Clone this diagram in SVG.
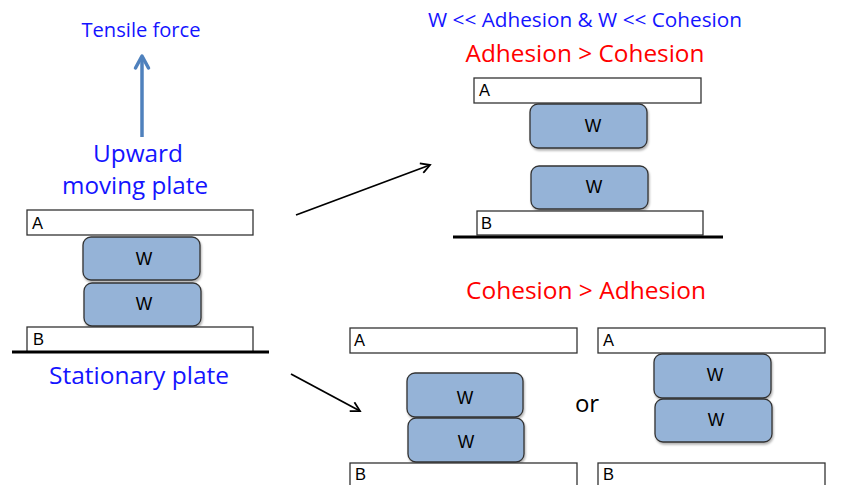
<svg xmlns="http://www.w3.org/2000/svg" width="843" height="485" viewBox="0 0 843 485">
<defs>
<style>
.plate{fill:#fff;stroke:#333;stroke-width:1.3}
.w{fill:#95b3d7;stroke:#333;stroke-width:1.3}
.lbl{font-family:"Liberation Sans",Arial,sans-serif;font-size:16.5px;fill:#000}
.wl{font-family:"Liberation Sans",Arial,sans-serif;font-size:17.5px;fill:#000;text-anchor:middle}
.blue{font-family:"Open Sans","Liberation Sans",sans-serif;fill:#1414ff;text-anchor:middle}
.red{font-family:"Open Sans","Liberation Sans",sans-serif;fill:#ff0000;text-anchor:middle}
.ground{stroke:#000;stroke-width:3}
.conn{stroke:#000;stroke-width:1.8;fill:none}
</style>
<marker id="ah" markerWidth="12" markerHeight="12" refX="10" refY="6" orient="auto" markerUnits="userSpaceOnUse">
<path d="M1,1 L10,6 L1,11" fill="none" stroke="#000" stroke-width="1.8"/>
</marker>
<filter id="sh" x="-10%" y="-10%" width="130%" height="140%">
<feDropShadow dx="1" dy="2" stdDeviation="1.2" flood-color="#000" flood-opacity="0.3"/>
</filter>
</defs>

<g id="labels">
<text class="blue" x="141" y="37" font-size="19.5" textLength="119" lengthAdjust="spacingAndGlyphs">Tensile force</text>
<text class="blue" x="138" y="162" font-size="24" textLength="90" lengthAdjust="spacingAndGlyphs">Upward</text>
<text class="blue" x="135" y="194" font-size="24" textLength="146" lengthAdjust="spacingAndGlyphs">moving plate</text>
<text class="blue" x="139" y="384" font-size="24" textLength="180" lengthAdjust="spacingAndGlyphs">Stationary plate</text>
<text class="blue" x="585" y="27" font-size="19.5" textLength="314" lengthAdjust="spacingAndGlyphs">W &lt;&lt; Adhesion &amp; W &lt;&lt; Cohesion</text>
<text class="red" x="585" y="62" font-size="24" textLength="239" lengthAdjust="spacingAndGlyphs">Adhesion &gt; Cohesion</text>
<text class="red" x="586" y="299" font-size="24" textLength="240" lengthAdjust="spacingAndGlyphs">Cohesion &gt; Adhesion</text>
<text x="587" y="412" font-family="Open Sans,Liberation Sans,sans-serif" font-size="24" text-anchor="middle" fill="#000">or</text>
</g>

<g id="left-stack">
<rect class="plate" x="27" y="210" width="226" height="25"/>
<text class="lbl" x="32" y="229">A</text>
<rect class="w" filter="url(#sh)" x="83" y="237" width="117" height="43" rx="8"/>
<text class="wl" x="144" y="265">W</text>
<rect class="w" filter="url(#sh)" x="84" y="283" width="117" height="43" rx="8"/>
<text class="wl" x="144" y="310">W</text>
<rect class="plate" x="27" y="327" width="226" height="25"/>
<text class="lbl" x="33" y="345">B</text>
<line class="ground" x1="12" y1="352" x2="269" y2="352"/>
</g>

<g id="top-right-stack">
<rect class="plate" x="474" y="78" width="227" height="25"/>
<text class="lbl" x="479" y="96">A</text>
<rect class="w" filter="url(#sh)" x="530" y="104" width="117" height="44" rx="8"/>
<text class="wl" x="593" y="132">W</text>
<rect class="w" filter="url(#sh)" x="531" y="166" width="117" height="43" rx="8"/>
<text class="wl" x="594" y="193">W</text>
<rect class="plate" x="477" y="211" width="226" height="24"/>
<text class="lbl" x="481" y="229">B</text>
<line class="ground" x1="453" y1="237" x2="723" y2="237"/>
</g>

<g id="bottom-left-stack">
<rect class="plate" x="350" y="328" width="227" height="25"/>
<text class="lbl" x="354" y="346">A</text>
<rect class="w" filter="url(#sh)" x="407" y="373" width="116" height="44" rx="8"/>
<text class="wl" x="465" y="404">W</text>
<rect class="w" filter="url(#sh)" x="408" y="418" width="116" height="44" rx="8"/>
<text class="wl" x="466" y="448">W</text>
<rect class="plate" x="350" y="463" width="227" height="25"/>
<text class="lbl" x="355" y="480">B</text>
</g>

<g id="bottom-right-stack">
<rect class="plate" x="598" y="328" width="227" height="25"/>
<text class="lbl" x="603" y="346">A</text>
<rect class="w" filter="url(#sh)" x="654" y="354" width="117" height="44" rx="8"/>
<text class="wl" x="715" y="381">W</text>
<rect class="w" filter="url(#sh)" x="655" y="399" width="117" height="43" rx="8"/>
<text class="wl" x="716" y="426">W</text>
<rect class="plate" x="598" y="463" width="227" height="25"/>
<text class="lbl" x="603" y="480">B</text>
</g>

<g id="connectors">
<line x1="142" y1="137" x2="142" y2="57" stroke="#4f81bd" stroke-width="3.5"/>
<path d="M135.5,68 L142,56 L148.5,68" fill="none" stroke="#4f81bd" stroke-width="3.5" stroke-linejoin="round" stroke-linecap="round"/>
<line class="conn" x1="296" y1="215" x2="430" y2="165" marker-end="url(#ah)"/>
<line class="conn" x1="291" y1="374" x2="360" y2="411" marker-end="url(#ah)"/>
</g>
</svg>
